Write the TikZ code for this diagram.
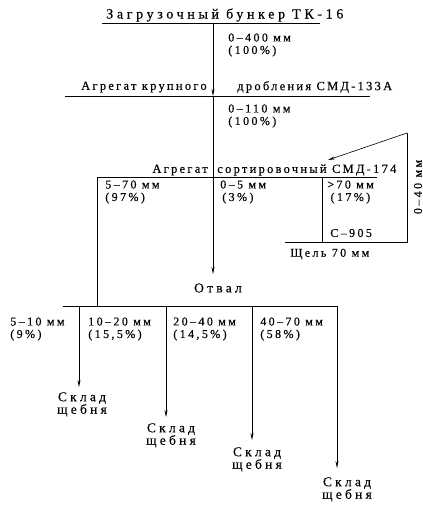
\documentclass[tikz,border=0pt]{standalone}
\usepackage{fontspec}
\setmainfont{Liberation Serif}[FakeBold=0.3]
\usetikzlibrary{arrows.meta,positioning}

\begin{document}
\begin{tikzpicture}[x=1pt,y=-1pt,>={Stealth[length=7pt,width=3pt]},line width=.6pt,
  every node/.style={inner sep=0pt},
  head/.style={font=\fontsize{12.5}{13}\selectfont\addfontfeature{LetterSpace=18}},
  title/.style={font=\fontsize{14}{14}\selectfont\addfontfeature{LetterSpace=26}},
  frac/.style={align=left,anchor=west,font=\fontsize{12}{12.5}\selectfont\addfontfeature{LetterSpace=20}},
  store/.style={align=center,anchor=north,font=\fontsize{13.5}{12.5}\selectfont\addfontfeature{LetterSpace=24}}]
\useasboundingbox (0,0) rectangle (423,506);
% heads
\node[title,anchor=west] (bunk) at (106,15) {Загрузочный бункер ТК-16};
\node[head,anchor=east] (crl) at (207,87) {Агрегат крупного};
\node[head,anchor=west] (crr) at (237,87) {дробления СМД-133А};
\node[head,anchor=east] (srl) at (208,170) {Агрегат};
\node[head,anchor=west] (srr) at (217,170) {сортировочный СМД-174};
% junctions
\coordinate (tl) at (102,23); \coordinate (tr) at (320,23); \coordinate (t0) at (213,23);
\coordinate (cl) at (65,96); \coordinate (cr) at (370,96); \coordinate (c0) at (213,96);
\coordinate (sl) at (97,177); \coordinate (sr) at (377,177); \coordinate (s0) at (213,177); \coordinate (s3) at (322,177);
\coordinate (ot) at (213,274);
\coordinate (g0) at (285,242); \coordinate (g3) at (322,242); \coordinate (g4) at (407,242); \coordinate (g5) at (407,133);
\coordinate (rt) at (328,160);
\coordinate (bl) at (63,306); \coordinate (br) at (337,306); \coordinate (b0) at (97,306);
\coordinate (b1) at (79,306); \coordinate (b2) at (166,306); \coordinate (b3) at (252,306); \coordinate (b4) at (337,306);
% main line
\draw (tl)--(tr); \draw[->] (t0)--(c0);
\draw (cl)--(cr); \draw (c0)--(s0);
\draw (sl)--(sr); \draw[->] (s0)--(ot);
\draw (sl)--(b0); \draw (s3)--(g3);
\draw (g0)--(g4)--(g5); \draw[->] (g5)--(rt);
\node[store,anchor=center] (otv) at (218,288) {Отвал};
% fractions
\node[frac] (f1) at (228,45) {0–400 мм\\(100\%)};
\node[frac] (f2) at (228,116) {0–110 мм\\(100\%)};
\node[frac] (f3) at (105,192) {5–70 мм\\(97\%)};
\node[frac] (f4) at (220,192) {0–5 мм\\\,(3\%)};
\node[frac] (f5) at (327,192) {>70 мм\\\;(17\%)};
\node[frac] (c905) at (330,233) {С–905};
\node[frac] (slot) at (290,254) {Щель 70 мм};
\node[frac,anchor=center,rotate=90] (f6) at (418,187) {0–40 мм};
% screens
\draw (bl)--(br);
\node[frac] (p1) at (10,329) {5–10 мм\\(9\%)};
\node[frac] (p2) at (88,329) {10–20 мм\\(15,5\%)};
\node[frac] (p3) at (173,329) {20–40 мм\\(14,5\%)};
\node[frac] (p4) at (260,329) {40–70 мм\\(58\%)};
\node[store] (sk1) at (82,392) {Склад\\щебня};
\node[store] (sk2) at (171,423) {Склад\\щебня};
\node[store] (sk3) at (257,447) {Склад\\щебня};
\node[store] (sk4) at (347,477) {Склад\\щебня};
\draw[->] (b1)--(79,387); \draw[->] (b2)--(166,417);
\draw[->] (b3)--(252,440); \draw[->] (b4)--(337,468);
\end{tikzpicture}
\end{document}
